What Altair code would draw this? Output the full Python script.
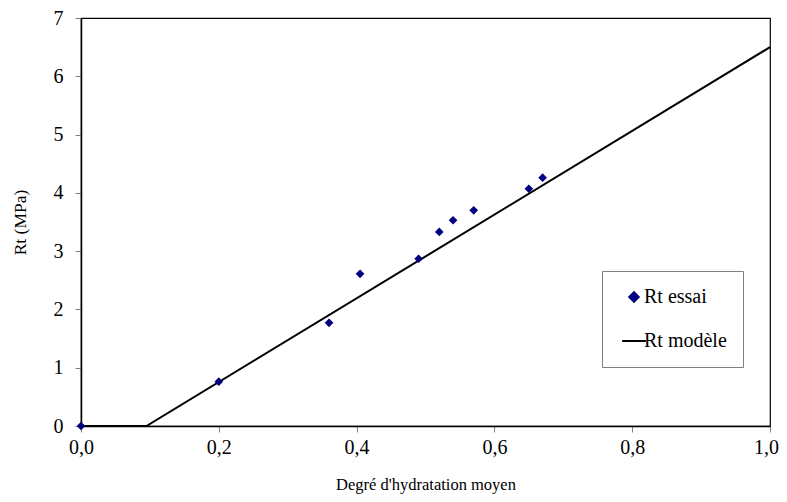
import altair as alt
import pandas as pd

# Measured points ("Rt essai")
x_essai = [0.0, 0.20, 0.36, 0.405, 0.49, 0.52, 0.54, 0.57, 0.65, 0.67]
y_essai = [0.0, 0.76, 1.77, 2.61, 2.87, 3.33, 3.53, 3.70, 4.07, 4.26]
# Model line ("Rt modèle")
x_modele = [0.0, 0.095, 1.0]
y_modele = [0.0, 0.0, 6.5]
series = ["Rt essai", "Rt modèle"]
x_ticks = [0.0, 0.2, 0.4, 0.6, 0.8, 1.0]
y_ticks = [0, 1, 2, 3, 4, 5, 6, 7]

df_pts = pd.DataFrame({"x": x_essai, "y": y_essai, "s": series[0]})
df_line = pd.DataFrame({"x": x_modele, "y": y_modele, "s": series[1]})

FONT = "Liberation Serif"

legend = alt.Legend(
    title=None, orient="none", legendX=521, legendY=253,
    padding=16, strokeColor="#808080", fillColor="white",
    labelFont=FONT, labelFontSize=20, labelColor="black", rowPadding=24,
    symbolStrokeWidth=2, symbolSize=90, labelOffset=0, symbolOffset=6,
)
color = alt.Color("s:N", scale=alt.Scale(domain=series, range=["#000080", "black"]), legend=legend)
shape = alt.Shape("s:N", scale=alt.Scale(domain=series, range=["diamond", "M-2.5,0L2.5,0"]),
                  legend=legend)

xenc = alt.X("x:Q", scale=alt.Scale(domain=[0, 1], nice=False),
             axis=alt.Axis(values=x_ticks, title="Degré d'hydratation moyen", labelFlush=False,
                           labelOffset={"condition": {"test": "datum.value == 1", "value": -4},
                                        "value": 0},
                           labelExpr="replace(format(datum.value, '.1f'), '.', ',')"))
yenc = alt.Y("y:Q", scale=alt.Scale(domain=[0, 7], nice=False),
             axis=alt.Axis(values=y_ticks, title="Rt (MPa)", labelFlush=False))

line = alt.Chart(df_line).mark_line(strokeWidth=2).encode(x=xenc, y=yenc, color=color)
pts = alt.Chart(df_pts).mark_point(filled=True, opacity=1, size=75).encode(
    x=xenc, y=yenc, color=color, shape=shape)

chart = alt.layer(line, pts).properties(
    width=689, height=408,
    autosize=alt.AutoSizeParams(type="none"),
    padding={"left": 73, "top": 10, "right": 9, "bottom": 68},
).configure_view(stroke="black", strokeWidth=1.2).configure_axis(
    grid=False, domainColor="black", domainWidth=1.5,
    tickColor="#808080", tickSize=6,
    labelFont=FONT, labelFontSize=20, labelColor="black",
    titleFont=FONT, titleFontWeight="normal", titleColor="black",
).configure_axisX(labelPadding=5, titlePadding=19, titleFontSize=16.5).configure_axisY(
    labelPadding=12, titlePadding=24, titleFontSize=17.5)

chart.save("out.html", embed_options={"renderer": "svg", "actions": False})
